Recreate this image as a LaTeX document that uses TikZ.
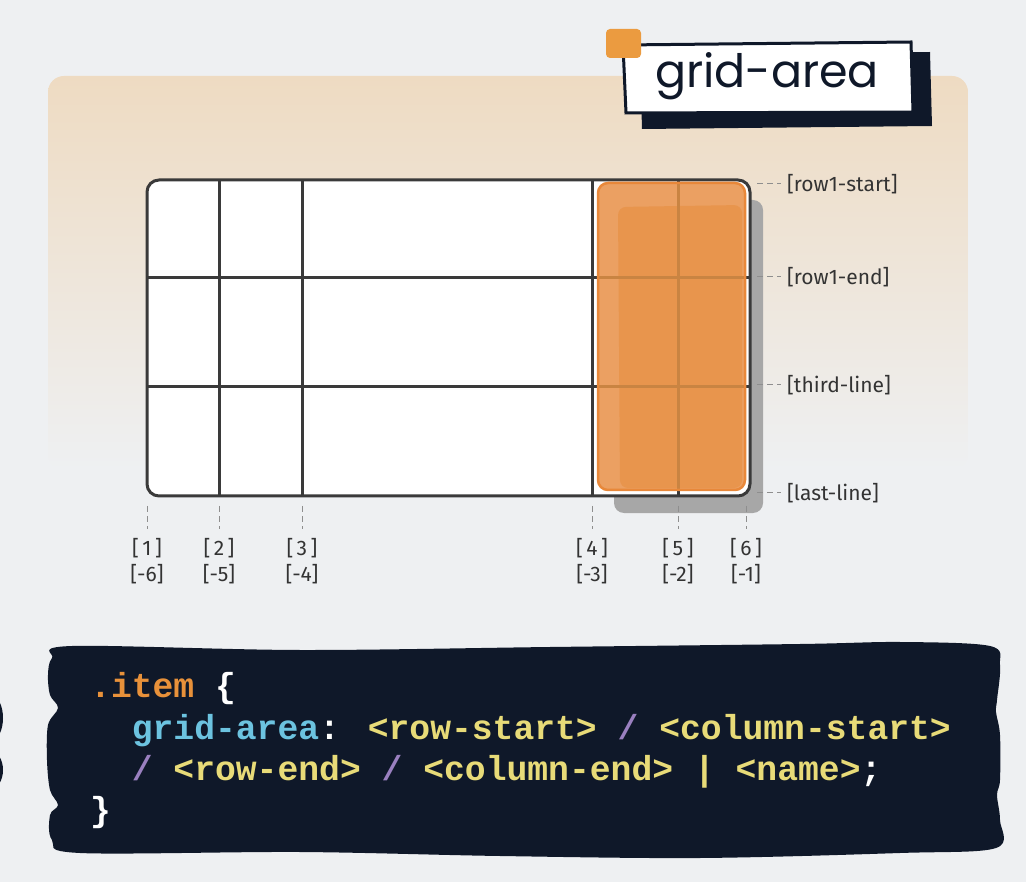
\documentclass[tikz,border=0pt]{standalone}
\usepackage{fontspec}
\setmainfont{Poppins}
\newfontfamily\lblfont{Fira Sans}
\newfontfamily\codefont{Liberation Mono}[WordSpace={1,0,0}]
\definecolor{bg}{HTML}{EEF0F2}
\definecolor{beige}{HTML}{EEDBC2}
\definecolor{gridc}{HTML}{3A3A3A}
\definecolor{ormain}{HTML}{E8954D}
\definecolor{orlight}{HTML}{EBA062}
\definecolor{oredge}{HTML}{E8883A}
\definecolor{orline}{HTML}{C98442}
\definecolor{shad}{HTML}{A7A7A7}
\definecolor{navy}{HTML}{0F1829}
\definecolor{lblc}{HTML}{333333}
\definecolor{dashc}{HTML}{8E8E8E}
\definecolor{tag}{HTML}{EB9B40}
\definecolor{cor}{HTML}{E8913A}
\definecolor{cblue}{HTML}{6CC3E0}
\definecolor{cyel}{HTML}{E8DB78}
\definecolor{cpur}{HTML}{9A80C0}
\begin{document}
\begin{tikzpicture}[x=1pt,y=-1pt,
  gridline/.style={draw=gridc,line width=3pt},
  orgline/.style={draw=orline,line width=3pt},
  dsh/.style={draw=dashc,line width=1pt,dash pattern=on 6pt off 4pt},
  lbl/.style={text=lblc,font=\lblfont\fontsize{21}{23}\selectfont,inner sep=0pt},
  code/.style={font=\codefont\bfseries\fontsize{34.7}{40}\selectfont,inner sep=0pt,anchor=base west}]
\useasboundingbox (0,0) rectangle (1026,882);
\fill[bg] (0,0) rectangle (1026,882);
% panel
\shade[top color=beige,bottom color=bg,rounded corners=16pt] (48,76) rectangle (968,470);
% title
\fill[navy] (640,56) -- (930,52) -- (932,126) -- (642,129) -- cycle;
\draw[navy,line width=3pt,fill=white] (623,45) -- (911,42) -- (913,112) -- (626,113) -- cycle;
\fill[tag,rounded corners=4pt] (606,29) rectangle (641,58);
\node[text=navy,font=\fontsize{46}{52}\selectfont,inner sep=0pt] (title) at (767,76) {grid-area};
% shadow
\fill[shad,rounded corners=10pt] (614,200) rectangle (763,513);
% grid
\draw[gridline,fill=white,rounded corners=12pt] (147,180) rectangle (750,496);
\foreach \x in {219,302,592,678} \draw[gridline] (\x,180) -- (\x,496);
\foreach \y in {278,387} \draw[gridline] (147,\y) -- (750,\y);
% orange area
\fill[orlight,rounded corners=10pt] (598,183) rectangle (745,490);
\fill[ormain,rounded corners=8pt] (618,207) -- (742,205) -- (742,488) -- (620,488) -- cycle;
\draw[orgline] (678,183) -- (678,490);
\foreach \y in {278,387} \draw[orgline] (598,\y) -- (745,\y);
\draw[oredge,line width=2.5pt,rounded corners=10pt] (598,183) rectangle (745,490);
% right labels
\node[lbl,anchor=west] (r1) at (787,184) {[row1-start]};
\node[lbl,anchor=west] (r2) at (787,277) {[row1-end]};
\node[lbl,anchor=west] (r3) at (787,385) {[third-line]};
\node[lbl,anchor=west] (r4) at (787,493) {[last-line]};
\coordinate (d1) at (757,184); \coordinate (d2) at (757,277);
\coordinate (d3) at (757,385); \coordinate (d4) at (757,493);
\draw[dsh] (d1) -- ([xshift=-6pt]r1.west);
\draw[dsh] (d2) -- ([xshift=-6pt]r2.west);
\draw[dsh] (d3) -- ([xshift=-6pt]r3.west);
\draw[dsh] (d4) -- ([xshift=-6pt]r4.west);
% bottom labels
\foreach \x/\a/\b [count=\i] in {147/1/-6,219/2/-5,302/3/-4,592/4/-3,678/5/-2,746/6/-1}{
  \coordinate (t\i) at (\x,506);
  \node[lbl] (p\i) at (\x,548) {[\,\a\,]};
  \node[lbl] (n\i) at (\x,574) {[\b]};
  \draw[dsh] (t\i) -- (\x,529);
}
% code box
\fill[navy] plot[smooth cycle,tension=0.55] coordinates {(72,646) (300,650) (550,647) (800,644) (900,642) (990,646) (1000,665) (997,700) (996,712) (1000,735) (1000,780) (997,795) (1000,820) (996,848) (900,853) (700,858) (500,856) (300,852) (80,853) (52,840) (50,815) (58,805) (50,790) (47,760) (48,725) (58,708) (50,695) (48,675) (52,658)};
\fill[navy] (-8,718) ellipse (11 and 22);
\fill[navy] (-8,770) ellipse (11 and 18);
\node[code] (l1) at (90,697) {\textcolor{cor}{.item} \textcolor{white}{\{}};
\node[code] (l2) at (131.6,739) {\textcolor{cblue}{grid-area}\textcolor{white}{:} \textcolor{cyel}{<row-start>} \textcolor{cpur}{/} \textcolor{cyel}{<column-start>}};
\node[code] (l3) at (131.6,780) {\textcolor{cpur}{/} \textcolor{cyel}{<row-end>} \textcolor{cpur}{/} \textcolor{cyel}{<column-end>} \textcolor{cyel}{|} \textcolor{cyel}{<name>}\textcolor{white}{;}};
\node[code] (l4) at (90,821) {\textcolor{white}{\}}};
\end{tikzpicture}
\end{document}
